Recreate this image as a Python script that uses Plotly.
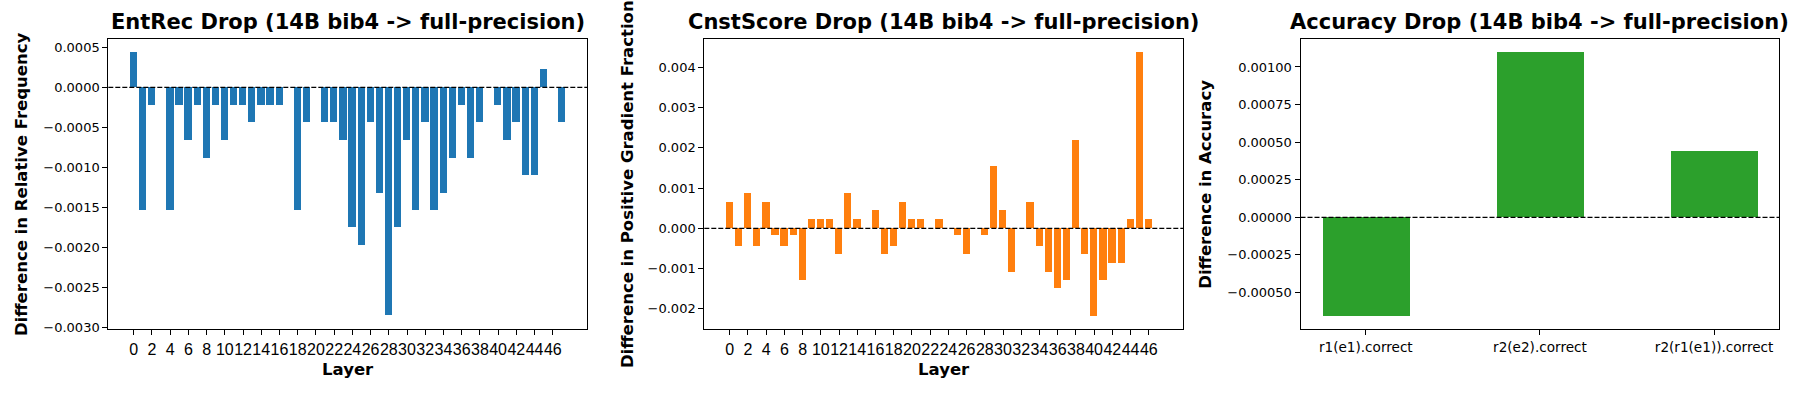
import plotly.graph_objects as go

# --- data ---
layers = list(range(48))
layer_ticks = list(range(0, 48, 2))

entrec_diff = [0.00044, -0.00154, -0.00022, 0.0, -0.00154, -0.00022, -0.00066, -0.00022,
               -0.00088, -0.00022, -0.00066, -0.00022, -0.00022, -0.00044, -0.00022, -0.00022,
               -0.00022, 0.0, -0.00154, -0.00044, 0.0, -0.00044, -0.00044, -0.00066,
               -0.00175, -0.00197, -0.00044, -0.00132, -0.00285, -0.00175, -0.00066, -0.00154,
               -0.00044, -0.00154, -0.00132, -0.00088, -0.00022, -0.00088, -0.00044, 0.0,
               -0.00022, -0.00066, -0.00044, -0.0011, -0.0011, 0.00022, 0.0, -0.00044]

cnst_diff = [0.00066, -0.00044, 0.00088, -0.00044, 0.00066, -0.00018, -0.00044, -0.00018,
             -0.0013, 0.00022, 0.00022, 0.00022, -0.00064, 0.00088, 0.00022, 0.0,
             0.00046, -0.00064, -0.00044, 0.00066, 0.00022, 0.00022, 0.0, 0.00022,
             0.0, -0.00018, -0.00064, 0.0, -0.00018, 0.00155, 0.00046, -0.0011,
             0.0, 0.00066, -0.00044, -0.0011, -0.0015, -0.0013, 0.00219, -0.00064,
             -0.00218, -0.0013, -0.00086, -0.00086, 0.00022, 0.00438, 0.00022, 0.0]

acc_labels = ['r1(e1).correct', 'r2(e2).correct', 'r2(r1(e1)).correct']
acc_diff = [-0.00066, 0.0011, 0.00044]

titles = ['EntRec Drop (14B bib4 -> full-precision)',
          'CnstScore Drop (14B bib4 -> full-precision)',
          'Accuracy Drop (14B bib4 -> full-precision)']
ylabels = ['Difference in Relative Frequency',
           'Difference in Positive Gradient Fraction',
           'Difference in Accuracy']

W, H = 1798, 394
FONT = 'DejaVu Sans'

# axes boxes in pixels (left, right), shared top/bottom
boxes = [(108.3, 587.3), (704.3, 1183.3), (1300.5, 1779.4)]
top_px, bot_px = 39.3, 329.3
ydom = [(H - bot_px) / H, (H - top_px) / H]

fig = go.Figure()

fig.add_trace(go.Bar(x=layers, y=entrec_diff, width=0.8, marker=dict(color='#1f77b4', line_width=0),
                     xaxis='x', yaxis='y', showlegend=False))
fig.add_trace(go.Bar(x=layers, y=cnst_diff, width=0.8, marker=dict(color='#ff7f0e', line_width=0),
                     xaxis='x2', yaxis='y2', showlegend=False))
fig.add_trace(go.Bar(x=[0, 1, 2], y=acc_diff, width=0.5, marker=dict(color='#2ca02c', line_width=0),
                     xaxis='x3', yaxis='y3', showlegend=False))

axis_common = dict(showline=True, linecolor='black', linewidth=1, mirror=True,
                   ticks='outside', ticklen=5, tickwidth=1, tickcolor='black',
                   showgrid=False, zeroline=False, automargin=False, tickangle=0)

x_ranges = [[-2.79, 49.79], [-2.79, 49.79], [-0.375, 2.375]]
y_ranges = [[-0.00302, 0.0006], [-0.00251, 0.0047], [-0.000745, 0.001184]]
y_dticks = [0.0005, 0.001, 0.00025]
y_formats = ['.4f', '.3f', '.5f']

layout = dict(width=W, height=H, margin=dict(l=0, r=0, t=0, b=0),
              plot_bgcolor='white', paper_bgcolor='white',
              font=dict(family=FONT, color='black', size=13), bargap=0)

for i in range(3):
    sx = '' if i == 0 else str(i + 1)
    l, r = boxes[i]
    xa = dict(axis_common, domain=[l / W, r / W], range=x_ranges[i], anchor='y' + sx)
    if i < 2:
        # layer numbers are drawn in a narrower sans face in the original
        xa.update(tickmode='array', tickvals=layer_ticks, ticktext=[str(t) for t in layer_ticks],
                  tickfont=dict(size=16, family='Liberation Sans'))
    else:
        xa.update(tickmode='array', tickvals=[0, 1, 2], ticktext=acc_labels, tickfont=dict(size=13.6))
    ya = dict(axis_common, domain=ydom, range=y_ranges[i], anchor='x' + sx,
              dtick=y_dticks[i], tick0=0, tickformat=y_formats[i], tickfont=dict(size=13))
    layout['xaxis' + sx] = xa
    layout['yaxis' + sx] = ya

fig.update_layout(**layout)

# dashed zero lines
for i in range(3):
    sx = '' if i == 0 else str(i + 1)
    fig.add_shape(type='line', xref='x' + sx + ' domain', yref='y' + sx,
                  x0=0, x1=1, y0=0, y1=0, line=dict(color='black', width=1.2, dash='5px,2px'))

# titles and axis labels
title_y = 1 - 22 / H
ylabel_x = [21.8, 626.8, 1205.5]
for i in range(3):
    l, r = boxes[i]
    fig.add_annotation(text='<b>' + titles[i] + '</b>', xref='paper', yref='paper',
                       x=(l + r) / 2 / W, y=title_y, xanchor='center', yanchor='middle',
                       showarrow=False, font=dict(size=21, family=FONT))
    fig.add_annotation(text='<b>' + ylabels[i] + '</b>', xref='paper', yref='paper',
                       x=ylabel_x[i] / W, y=(ydom[0] + ydom[1]) / 2, textangle=-90,
                       xanchor='center', yanchor='middle', showarrow=False,
                       font=dict(size=16.5, family=FONT))
    if i < 2:
        fig.add_annotation(text='<b>Layer</b>', xref='paper', yref='paper',
                           x=(l + r) / 2 / W, y=1 - 369 / H, xanchor='center', yanchor='middle',
                           showarrow=False, font=dict(size=16.5, family=FONT))

fig.write_html('out.html', config={'displayModeBar': False},
               post_script="document.body.style.margin='0';")
